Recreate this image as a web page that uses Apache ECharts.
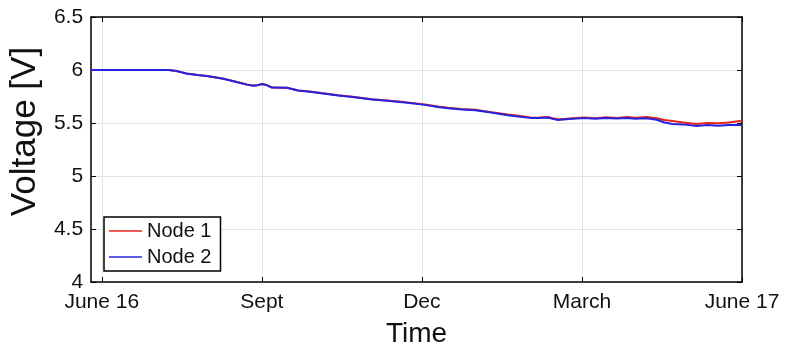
<!DOCTYPE html>
<html>
<head>
<meta charset="utf-8">
<script src="https://cdn.jsdelivr.net/npm/echarts@6/dist/echarts.min.js"></script>
<style>
  html, body { margin: 0; padding: 0; background: #fff; }
  #chart { width: 791px; height: 353px; }
</style>
</head>
<body>
<div id="chart"></div>
<script>
// Time in months since June 2016
const tickMonths = [0, 3, 6, 9, 12];
const tickLabels = ['June 16', 'Sept', 'Dec', 'March', 'June 17'];

const node1Months = [-0.2, 1.25, 1.4, 1.6, 1.8, 2.0, 2.28, 2.5, 2.72, 2.84, 2.92, 3.0, 3.08, 3.19, 3.47, 3.68, 3.9, 4.15, 4.43, 4.7, 5.07, 5.35, 5.68, 6.06, 6.3, 6.49, 6.75, 7.0, 7.3, 7.61, 7.85, 8.06, 8.2, 8.36, 8.45, 8.55, 8.7, 8.9, 9.05, 9.25, 9.45, 9.65, 9.85, 10.0, 10.21, 10.4, 10.55, 10.7, 10.9, 11.15, 11.35, 11.55, 11.75, 11.96, 12.0];
const node1Volts = [6.0, 6.0, 5.99, 5.966, 5.953, 5.941, 5.918, 5.891, 5.863, 5.853, 5.857, 5.868, 5.860, 5.835, 5.833, 5.807, 5.797, 5.780, 5.761, 5.747, 5.724, 5.712, 5.697, 5.674, 5.656, 5.643, 5.632, 5.624, 5.602, 5.580, 5.565, 5.550, 5.552, 5.556, 5.545, 5.535, 5.540, 5.548, 5.552, 5.546, 5.555, 5.548, 5.556, 5.550, 5.556, 5.545, 5.528, 5.519, 5.505, 5.491, 5.500, 5.497, 5.505, 5.519, 5.505];

const node2Months = node1Months;
const node2Volts = [6.0, 6.0, 5.99, 5.965, 5.952, 5.94, 5.917, 5.89, 5.862, 5.852, 5.856, 5.867, 5.859, 5.834, 5.832, 5.806, 5.795, 5.778, 5.759, 5.745, 5.722, 5.71, 5.694, 5.671, 5.652, 5.639, 5.628, 5.620, 5.598, 5.574, 5.558, 5.546, 5.548, 5.552, 5.540, 5.528, 5.535, 5.542, 5.546, 5.540, 5.548, 5.542, 5.547, 5.540, 5.544, 5.530, 5.505, 5.491, 5.487, 5.472, 5.480, 5.475, 5.482, 5.481, 5.480];

const yTicks = [4, 4.5, 5, 5.5, 6, 6.5];

const pair = (xs, ys) => xs.map((x, i) => [x, ys[i]]);

const font = 'Liberation Sans, Arial, sans-serif';
const chart = echarts.init(document.getElementById('chart'), null, { renderer: 'canvas' });

const xCommon = {
  type: 'value', min: -0.2, max: 12,
  axisLine: { show: true, onZero: false, lineStyle: { color: '#000', width: 1.5 } },
  axisTick: { show: true, inside: true, length: 5, customValues: tickMonths, lineStyle: { color: '#000', width: 1 } }
};
const yCommon = {
  type: 'value', min: yTicks[0], max: yTicks[yTicks.length - 1], interval: 0.5,
  axisLine: { show: true, onZero: false, lineStyle: { color: '#000', width: 1.5 } },
  axisTick: { show: true, inside: true, length: 5, lineStyle: { color: '#000', width: 1 } }
};

chart.setOption({
  animation: false,
  backgroundColor: '#fff',
  grid: { left: 91, right: 49, top: 17, bottom: 66 },
  legend: {
    orient: 'vertical', left: 104, top: 217,
    backgroundColor: '#fff', borderColor: '#000', borderWidth: 1.5,
    padding: [4, 9, 4, 5], itemGap: 6, itemWidth: 33, itemHeight: 1.5,
    icon: 'rect',
    textStyle: { fontFamily: font, fontSize: 20, color: '#111' },
    data: ['Node 1', 'Node 2']
  },
  xAxis: [
    Object.assign({}, xCommon, {
      position: 'bottom',
      name: 'Time', nameLocation: 'middle', nameGap: 38,
      nameTextStyle: { fontFamily: font, fontSize: 28, color: '#111' },
      axisLabel: {
        customValues: tickMonths, margin: 10,
        fontFamily: font, fontSize: 21, color: '#111',
        formatter: v => tickLabels[tickMonths.indexOf(Math.round(v))] || ''
      },
      splitLine: { show: true, lineStyle: { color: '#e4e4e4', width: 1 } }
    }),
    Object.assign({}, xCommon, {
      position: 'top',
      axisLabel: { show: false }, splitLine: { show: false }
    })
  ],
  yAxis: [
    Object.assign({}, yCommon, {
      position: 'left',
      name: 'Voltage [V]', nameLocation: 'middle', nameGap: 42,
      nameTextStyle: { fontFamily: font, fontSize: 35, color: '#111', padding: [0, 0, 0, 36] },
      axisLabel: { margin: 8, fontFamily: font, fontSize: 21, color: '#111', formatter: v => String(v) },
      splitLine: { show: true, lineStyle: { color: '#e4e4e4', width: 1 } }
    }),
    Object.assign({}, yCommon, {
      position: 'right',
      axisLabel: { show: false }, splitLine: { show: false }
    })
  ],
  series: [
    {
      name: 'Node 1', type: 'line', showSymbol: false,
      data: pair(node1Months, node1Volts),
      lineStyle: { color: '#e8231c', width: 2 }, itemStyle: { color: '#e8231c' }
    },
    {
      name: 'Node 2', type: 'line', showSymbol: false,
      data: pair(node2Months, node2Volts),
      lineStyle: { color: '#2424e0', width: 2 }, itemStyle: { color: '#2424e0' }
    }
  ]
});
</script>
</body>
</html>
